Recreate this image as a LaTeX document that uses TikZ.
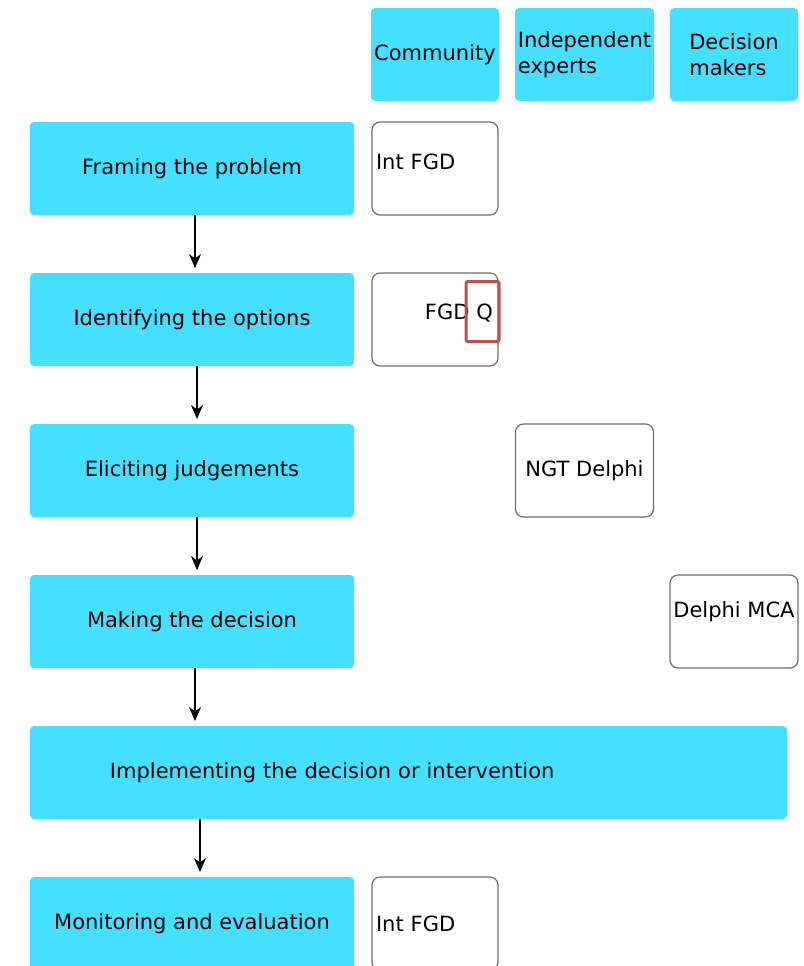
\documentclass[tikz,border=0pt]{standalone}
\usepackage{fontspec}
\setmainfont{DejaVu Sans}
\usetikzlibrary{positioning,arrows.meta}
\definecolor{stepcyan}{RGB}{69,224,255}
\definecolor{methodgray}{RGB}{110,110,110}
\definecolor{markred}{RGB}{192,80,77}

\begin{document}
\begin{tikzpicture}[
    x=0.5pt, y=-0.5pt,
    node distance=29pt and 8pt,
 stepbox/.style = {
        fill=stepcyan, rectangle, rounded corners=2pt,
        minimum width=162pt, minimum height=46.5pt,
        font=\fontsize{10.5}{13}\selectfont, inner sep=0pt, outer sep=0pt},
groupbox/.style = {
        fill=stepcyan, rectangle, rounded corners=2pt, align=left,
        minimum height=46.5pt,
        font=\fontsize{10.5}{13}\selectfont, inner sep=0pt, outer sep=0pt},
methodbox/.style = {
        draw=methodgray, line width=0.6pt, rectangle, rounded corners=4pt,
        minimum width=63pt, minimum height=46.5pt,
        font=\fontsize{10.5}{13}\selectfont, inner sep=2pt, outer sep=0pt},
 markbox/.style = {draw=markred, line width=1.5pt, rounded corners=1pt},
   arrow/.style = {line width=1pt,-{Stealth[length=7pt,width=6pt]},
                   shorten >=2.5pt}
                    ]
\useasboundingbox (0,0) rectangle (804,966);
% the groups at the top
\node (community)   [groupbox, minimum width=64pt] at (435,54.5) {Community};
\node (independent) [groupbox, minimum width=69.5pt, right=of community]
                                        {Independent\\ experts};
\node (decision)    [groupbox, minimum width=64pt, right=of independent]
                                        {Decision\\ makers};
% the steps on the left
\node (frame)   [stepbox] at (192,168.5)   {Framing the problem};
\node (options) [stepbox, below=of frame]  {Identifying the options};
\node (elicit)  [stepbox, below=of options] {Eliciting judgements};
\node (decide)  [stepbox, below=of elicit]  {Making the decision};
\node (implement) [stepbox, minimum width=378.5pt, text width=298.5pt,
                   inner xsep=40pt, align=left,
                   below=of decide.south west, anchor=north west]
                        {Implementing the decision or intervention};
\node (monitor) [stepbox, below=of implement.south west, anchor=north west]
                        {Monitoring and evaluation};
% the methods in the columns
\node (intfgd)  [methodbox, text width=59pt, align=left, text depth=7pt]
                        at (community |- frame)     {Int FGD};
\node (fgdq)    [methodbox, text width=58pt, align=right, text depth=8pt]
                        at (community |- options)   {FGD Q};
\node (ngt)     [methodbox, minimum width=69pt]
                        at (independent |- elicit)  {NGT Delphi};
\node (mca)     [methodbox, minimum width=64pt, inner sep=0pt, text depth=12pt]
                        at (decision |- decide)     {Delphi MCA};
\node (intfgdb) [methodbox, text width=59pt, align=left]
                        at (community |- monitor)   {Int FGD};
% the mark round Q
\draw[markbox] ([shift={(-16pt,19pt)}]fgdq.east)
                rectangle ([shift={(0.5pt,-11pt)}]fgdq.east);
% the arrows down the steps
\draw[arrow] ([xshift=1.5pt]frame.south) -- ([xshift=1.5pt]options.north);
\draw[arrow] ([xshift=2.5pt]options.south) -- ([xshift=2.5pt]elicit.north);
\draw[arrow] ([xshift=2.5pt]elicit.south) -- ([xshift=2.5pt]decide.north);
\draw[arrow] ([xshift=1.5pt]decide.south) -- ([xshift=1.5pt]decide.south |- implement.north);
\draw[arrow] ([xshift=4pt]implement.south -| monitor) -- ([xshift=4pt]monitor.north);
\end{tikzpicture}
\end{document}
